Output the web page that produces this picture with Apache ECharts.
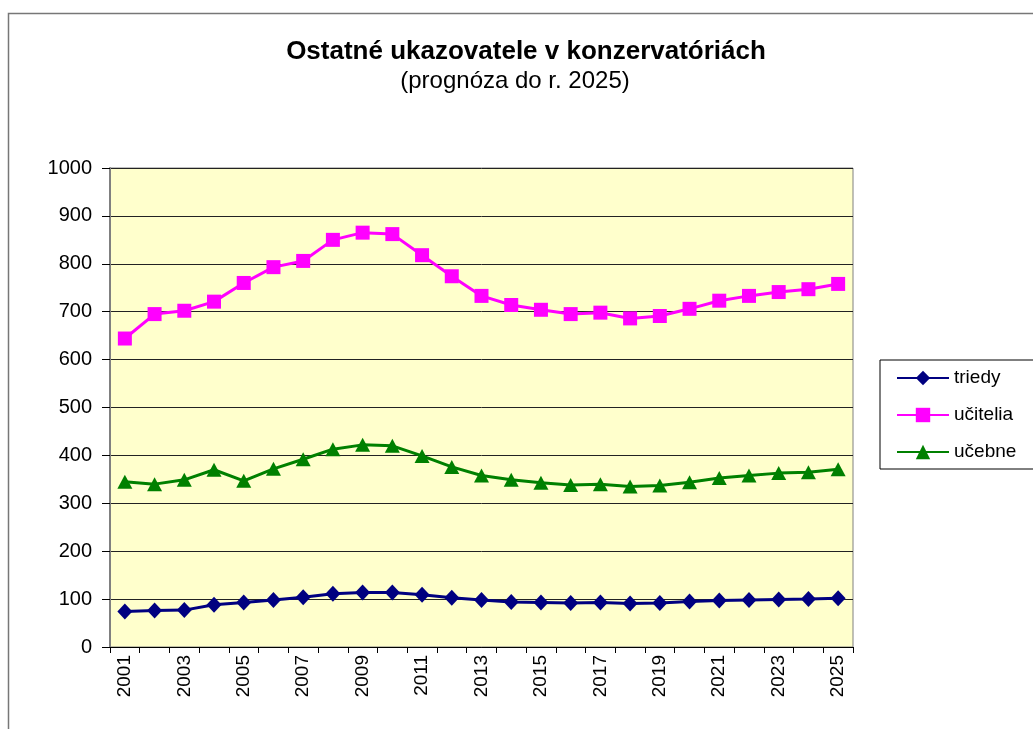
<!DOCTYPE html>
<html>
<head>
<meta charset="utf-8">
<script src="https://cdn.jsdelivr.net/npm/echarts@6/dist/echarts.min.js"></script>
<style>
  html, body { margin: 0; padding: 0; background: #fff; }
  #chart { width: 1033px; height: 729px; }
</style>
</head>
<body>
<div id="chart"></div>
<script>
const years = ['2001', '2002', '2003', '2004', '2005', '2006', '2007', '2008', '2009', '2010',
  '2011', '2012', '2013', '2014', '2015', '2016', '2017', '2018', '2019', '2020',
  '2021', '2022', '2023', '2024', '2025'];

const triedy = [74, 76, 77, 88, 93, 98, 104, 111, 114, 114, 109, 103, 98, 94, 93, 92, 93, 91, 92, 95, 97, 98, 99, 100, 102];
const ucitelia = [644, 695, 702, 721, 760, 793, 806, 850, 865, 862, 818, 774, 733, 714, 704, 695, 698, 686, 691, 706, 723, 733, 741, 747, 758];
const ucebne = [345, 340, 349, 370, 347, 372, 392, 413, 422, 420, 399, 376, 358, 349, 343, 338, 340, 335, 337, 344, 353, 358, 363, 365, 371];

const yTicks = [0, 100, 200, 300, 400, 500, 600, 700, 800, 900, 1000];

const font = '"Liberation Sans", Arial, sans-serif';
const chart = echarts.init(document.getElementById('chart'));

chart.setOption({
  animation: false,
  backgroundColor: '#fff',
  textStyle: { fontFamily: font },
  title: [{
    text: 'Ostatné ukazovatele v konzervatóriách',
    left: 521,
    textAlign: 'center',
    top: 34,
    textStyle: { fontFamily: font, fontSize: 26, fontWeight: 'bold', color: '#000' }
  }, {
    text: '(prognóza do r. 2025)',
    left: 510,
    textAlign: 'center',
    top: 64,
    textStyle: { fontFamily: font, fontSize: 24, fontWeight: 'normal', color: '#000' }
  }],
  graphic: [{
    type: 'rect',
    shape: { x: 8.5, y: 13.5, width: 1100, height: 800 },
    style: { fill: 'none', stroke: '#777', lineWidth: 1.5 },
    silent: true
  }],
  legend: {
    orient: 'vertical',
    left: 880,
    top: 360,
    padding: [8, 18, 7, 16],
    itemWidth: 52,
    itemHeight: 18,
    itemGap: 17,
    borderColor: '#000',
    borderWidth: 1,
    textStyle: { fontFamily: font, fontSize: 19, color: '#000', lineHeight: 20 },
    data: ['triedy', 'učitelia', 'učebne']
  },
  grid: {
    left: 110,
    top: 168,
    right: 180,
    bottom: 82,
    show: true,
    backgroundColor: '#FFFFCC',
    borderColor: '#808080',
    borderWidth: 1
  },
  xAxis: {
    type: 'category',
    data: years,
    boundaryGap: true,
    axisLine: { lineStyle: { color: '#000', width: 1 } },
    axisTick: { show: true, interval: 0, length: 6, lineStyle: { color: '#000' } },
    axisLabel: {
      interval: 1,
      rotate: 90,
      margin: 8,
      fontFamily: font,
      fontSize: 19,
      color: '#000'
    }
  },
  yAxis: {
    type: 'value',
    min: yTicks[0],
    max: yTicks[yTicks.length - 1],
    interval: 100,
    axisLine: { show: true, lineStyle: { color: '#808080', width: 2 } },
    axisTick: { show: true, length: 8, lineStyle: { color: '#000' } },
    axisLabel: { margin: 18, fontFamily: font, fontSize: 20, color: '#000', formatter: v => String(v) },
    splitLine: { show: true, lineStyle: { color: '#222', width: 1 } }
  },
  series: [
    {
      name: 'triedy',
      type: 'line',
      data: triedy,
      symbol: 'diamond',
      symbolSize: [15, 16],
      itemStyle: { color: '#000080' },
      lineStyle: { color: '#000080', width: 3 }
    },
    {
      name: 'učitelia',
      type: 'line',
      data: ucitelia,
      symbol: 'rect',
      symbolSize: 14,
      itemStyle: { color: '#FF00FF' },
      lineStyle: { color: '#FF00FF', width: 3 }
    },
    {
      name: 'učebne',
      type: 'line',
      data: ucebne,
      symbol: 'triangle',
      symbolSize: [15, 14],
      itemStyle: { color: '#008000' },
      lineStyle: { color: '#008000', width: 3 }
    }
  ]
});
</script>
</body>
</html>
